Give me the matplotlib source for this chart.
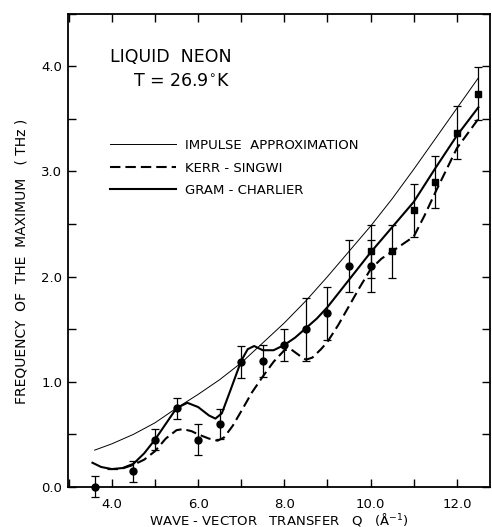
import numpy as np
import matplotlib
matplotlib.use("Agg")
import matplotlib.pyplot as plt
from matplotlib.ticker import MultipleLocator

# measured peak frequencies (circles) and second run (squares)
q_circ = [3.6, 4.5, 5.0, 5.5, 6.0, 6.5, 7.0, 7.5, 8.0, 8.5, 9.0, 9.5, 10.0]
f_circ = [0.00, 0.15, 0.45, 0.75, 0.45, 0.60, 1.19, 1.20, 1.35, 1.50, 1.65, 2.10, 2.10]
e_circ = [0.10, 0.10, 0.10, 0.10, 0.15, 0.14, 0.15, 0.15, 0.15, 0.30, 0.25, 0.25, 0.25]

q_sq = [10.0, 10.5, 11.0, 11.5, 12.0, 12.5]
f_sq = [2.24, 2.24, 2.63, 2.90, 3.37, 3.74]
e_sq = [0.25, 0.25, 0.25, 0.25, 0.25, 0.25]

# impulse approximation
q_ia = [3.6, 4.0, 4.5, 5.0, 5.5, 6.0, 6.5, 7.0, 7.5, 8.0, 8.5, 9.0, 9.5,
        10.0, 10.5, 11.0, 11.5, 12.0, 12.5]
f_ia = [0.35, 0.41, 0.50, 0.61, 0.75, 0.88, 1.02, 1.18, 1.37, 1.56, 1.77,
        2.00, 2.24, 2.48, 2.74, 3.02, 3.31, 3.60, 3.89]

# Kerr-Singwi
q_ks = [3.9, 4.2, 4.5, 4.75, 5.0, 5.25, 5.5, 5.65, 5.85, 6.0, 6.25, 6.45,
        6.6, 6.8, 7.0, 7.25, 7.5, 7.75, 8.0, 8.15, 8.35, 8.5, 8.65, 8.85,
        9.0, 9.25, 9.5, 9.75, 10.0, 10.25, 10.5, 10.75, 11.0, 11.25, 11.5,
        12.0, 12.5]
f_ks = [0.17, 0.17, 0.21, 0.26, 0.34, 0.46, 0.54, 0.55, 0.53, 0.50, 0.46,
        0.44, 0.47, 0.58, 0.72, 0.90, 1.05, 1.19, 1.30, 1.31, 1.25, 1.21,
        1.23, 1.31, 1.38, 1.54, 1.72, 1.90, 2.07, 2.17, 2.24, 2.31, 2.38,
        2.58, 2.80, 3.22, 3.50]

# Gram-Charlier
q_gc = [3.55, 3.75, 4.0, 4.25, 4.5, 4.75, 5.0, 5.25, 5.5, 5.75, 6.0, 6.25,
        6.4, 6.55, 6.75, 7.0, 7.15, 7.3, 7.5, 7.75, 8.0, 8.25, 8.5, 8.75,
        9.0, 9.5, 10.0, 10.5, 11.0, 11.5, 12.0, 12.5]
f_gc = [0.23, 0.19, 0.17, 0.18, 0.22, 0.32, 0.45, 0.60, 0.75, 0.80, 0.76,
        0.68, 0.65, 0.70, 0.92, 1.20, 1.31, 1.34, 1.30, 1.30, 1.35, 1.42,
        1.51, 1.60, 1.71, 1.97, 2.23, 2.47, 2.71, 3.03, 3.34, 3.61]

plt.rcParams["font.family"] = "DejaVu Sans"

fig = plt.figure(figsize=(4.92, 5.27), dpi=100)
ax = fig.add_axes([0.138, 0.076, 0.858, 0.898])

ax.plot(q_ia, f_ia, "k-", lw=0.7, label="IMPULSE  APPROXIMATION")
ax.plot(q_ks, f_ks, color="k", lw=1.5, linestyle=(0, (5, 2.4)),
        label="KERR - SINGWI")
ax.plot(q_gc, f_gc, "k-", lw=1.5, label="GRAM - CHARLIER")

for q, f, e, m in [(q_circ, f_circ, e_circ, "o"), (q_sq, f_sq, e_sq, "s")]:
    cont = ax.errorbar(q, f, yerr=e, fmt=m, color="k", ms=5, elinewidth=0.9,
                       capsize=3, capthick=0.9)
    for art in cont.get_children():
        art.set_clip_on(False)

ax.set_xlim(2.98, 12.77)
ax.set_ylim(0, 4.5)
ax.xaxis.set_major_locator(MultipleLocator(2.0))
ax.xaxis.set_minor_locator(MultipleLocator(1.0))
ax.yaxis.set_major_locator(MultipleLocator(1.0))
ax.yaxis.set_minor_locator(MultipleLocator(0.5))
ax.xaxis.set_major_formatter(plt.FormatStrFormatter("%.1f"))
ax.yaxis.set_major_formatter(plt.FormatStrFormatter("%.1f"))
ax.tick_params(which="both", direction="in", top=True, right=True,
               length=6, width=1.0, labelsize=9.5)
ax.tick_params(axis="x", pad=8)
ax.tick_params(axis="y", pad=4)
for s in ax.spines.values():
    s.set_linewidth(1.3)

ax.set_xlabel("WAVE - VECTOR   TRANSFER   Q   (Å$^{-1}$)", fontsize=9.5,
              labelpad=0)
ax.set_ylabel("FREQUENCY  OF  THE  MAXIMUM   ( THz )", fontsize=10,
              labelpad=9, y=0.476)

ax.text(0.0995, 0.909, "LIQUID  NEON", transform=ax.transAxes,
        fontsize=12.5, va="center", ha="left")
ax.text(0.155, 0.858, "T = 26.9$^{\\circ}$K", transform=ax.transAxes,
        fontsize=12.5, va="center", ha="left")

ax.legend(loc="upper left", bbox_to_anchor=(0.0995, 0.735), frameon=False,
          fontsize=9.5, handlelength=5.0, handletextpad=0.7,
          labelspacing=0.72, borderpad=0, borderaxespad=0)

fig.savefig("out.png", dpi=100)
